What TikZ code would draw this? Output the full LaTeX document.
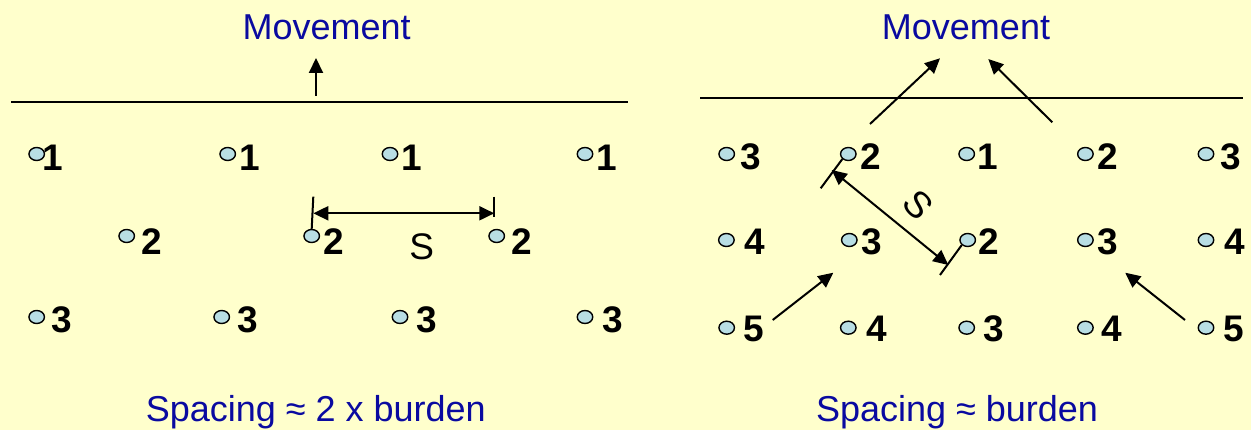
\documentclass[tikz,border=0pt]{standalone}
\usepackage{fontspec}
\setmainfont{Liberation Sans}
\usetikzlibrary{arrows.meta,shapes.geometric}
\definecolor{bg}{RGB}{255,255,204}
\definecolor{txtblue}{RGB}{10,10,160}
\definecolor{dotblue}{RGB}{184,222,228}
\tikzset{
  hole/.style={ellipse, draw=black, fill=dotblue, line width=1.4pt, minimum width=15.5pt, minimum height=13pt, inner sep=0pt},
  num/.style={anchor=base west, inner sep=0pt, font=\fontsize{37}{40}\selectfont\bfseries},
  heading/.style={text=txtblue, inner sep=0pt, font=\fontsize{36}{40}\selectfont},
  arr/.style={-{Triangle[length=15pt,width=14pt]}, line width=2pt},
  dimline/.style={{Triangle[length=15pt,width=14pt]}-{Triangle[length=15pt,width=14pt]}, line width=2pt},
  tickline/.style={line width=2pt},
  front/.style={line width=2.4pt},
  slabel/.style={inner sep=0pt, font=\fontsize{37}{40}\selectfont}
}
\newcommand\blasthole[6]{%
  \node[hole] (#1) at (#2,#3) {};
  \node[num] (#1n) at (#5,#6) {#4};
}
\begin{document}
\begin{tikzpicture}[x=1pt,y=-1pt]
\useasboundingbox (0,0) rectangle (1251,430);
\fill[bg] (0,0) rectangle (1251,430);

% ---------- left panel ----------
\node[heading, anchor=base] (movL) at (326.7,40) {Movement};
\coordinate (lineL1) at (11,102);
\coordinate (lineL2) at (628,102);
\draw[front] (lineL1) -- (lineL2);
\coordinate (aLs) at (316,96);
\coordinate (aLe) at (316,58);
\draw[arr] (aLs) -- (aLe);

\blasthole{L11}{36.7}{154}{1}{42.5}{170.5}
\blasthole{L12}{227.7}{154}{1}{239}{170.5}
\blasthole{L13}{390}{154}{1}{401}{170.5}
\blasthole{L14}{585}{154}{1}{596}{170.5}

\blasthole{L21}{126.7}{236}{2}{141.5}{255}
\blasthole{L22}{311.7}{236}{2}{323.5}{255}
\blasthole{L23}{496.7}{236}{2}{511.5}{255}

\blasthole{L31}{36.7}{317}{3}{51.5}{333}
\blasthole{L32}{221.7}{317}{3}{237}{333}
\blasthole{L33}{400}{317}{3}{416}{333}
\blasthole{L34}{585}{317}{3}{602}{333}

\coordinate (tL1a) at (313.3,196.7);
\coordinate (tL2a) at (494.3,196.7);
\draw[tickline] (tL1a) -- (L22.north);
\coordinate (tL2b) at (494.3,216.7);
\draw[tickline] (tL2a) -- (tL2b);
\coordinate (dL1) at (313.3,213.3);
\coordinate (dL2) at (494.3,213.3);
\draw[dimline] (dL1) -- (dL2);
\node[slabel, anchor=base] (SL) at (421.7,260) {S};

\node[heading, anchor=base west] (capL) at (145.6,421.7) {Spacing ≈ 2 x burden};

% ---------- right panel ----------
\node[heading, anchor=base] (movR) at (966,40) {Movement};
\coordinate (lineR1) at (700,98);
\coordinate (lineR2) at (1243,98);
\draw[front] (lineR1) -- (lineR2);

\blasthole{R11}{726.7}{154}{3}{740.5}{170}
\blasthole{R12}{848.3}{154}{2}{860.5}{170}
\blasthole{R13}{966.7}{154}{1}{977}{170}
\blasthole{R14}{1085.4}{154}{2}{1097.5}{170}
\blasthole{R15}{1206}{154}{3}{1220.5}{170}

\blasthole{R21}{726.4}{240}{4}{744}{255}
\blasthole{R22}{849.3}{240}{3}{861}{255}
\blasthole{R23}{967.7}{240}{2}{978.5}{255}
\blasthole{R24}{1085.4}{240}{3}{1097.5}{255}
\blasthole{R25}{1206}{240}{4}{1224}{255}

\blasthole{R31}{726.7}{327.7}{5}{743.5}{341.7}
\blasthole{R32}{848.3}{327.7}{4}{866.5}{341.7}
\blasthole{R33}{966.7}{327.7}{3}{983.5}{341.7}
\blasthole{R34}{1085.4}{327.7}{4}{1101.5}{341.7}
\blasthole{R35}{1206}{327.7}{5}{1223.5}{341.7}

% movement arrows
\coordinate (m1s) at (870,124);
\coordinate (m1e) at (940,58.3);
\draw[arr] (m1s) -- (m1e);
\coordinate (m2s) at (1052.3,122.3);
\coordinate (m2e) at (988.3,59);
\draw[arr] (m2s) -- (m2e);
\coordinate (m3s) at (772.7,320);
\coordinate (m3e) at (833.3,272.7);
\draw[arr] (m3s) -- (m3e);
\coordinate (m4s) at (1185,320);
\coordinate (m4e) at (1125.2,272.7);
\draw[arr] (m4s) -- (m4e);

% diagonal spacing dimension
\coordinate (tR1) at (820.7,188.3);
\draw[tickline] (R12.south west) -- (tR1);
\coordinate (tR2) at (940,275);
\draw[tickline] (R23.south west) -- (tR2);
\coordinate (dR1) at (831.7,170);
\coordinate (dR2) at (948.3,265);
\draw[dimline] (dR1) -- (dR2);
\node[slabel, rotate=-47] (SR) at (918.3,205) {S};

\node[heading, anchor=base west] (capR) at (815.8,421.7) {Spacing ≈ burden};
\end{tikzpicture}
\end{document}
